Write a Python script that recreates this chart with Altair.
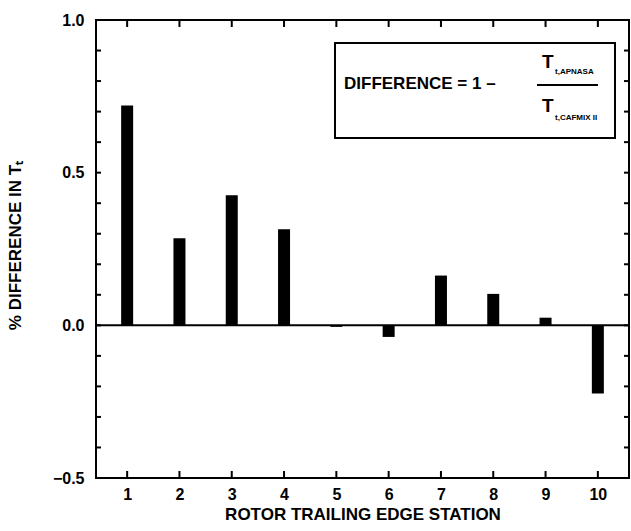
import altair as alt
import pandas as pd

# ---- data ----
stations = [1, 2, 3, 4, 5, 6, 7, 8, 9, 10]
differences = [0.72, 0.285, 0.426, 0.315, -0.005, -0.038, 0.163, 0.103, 0.025, -0.223]
x_tick_values = [1, 2, 3, 4, 5, 6, 7, 8, 9, 10]
y_tick_labels = [-0.5, 0.0, 0.5, 1.0]
y_minor_ticks = [-0.4, -0.3, -0.2, -0.1, 0.0, 0.1, 0.2, 0.3, 0.4, 0.5, 0.6, 0.7, 0.8, 0.9]

FONT = "Liberation Sans"
W, H = 533, 458

df = pd.DataFrame({"station": stations, "diff": differences})
xt = pd.DataFrame({"tx": x_tick_values})
yt = pd.DataFrame({"ty": y_minor_ticks})
one = pd.DataFrame({"a": [0]})

xscale = alt.Scale(domain=[0.5, 10.5], nice=False, zero=False)
yscale = alt.Scale(domain=[-0.5, 1.0], nice=False, zero=False)

bars = alt.Chart(df).mark_bar(color="black", size=12).encode(
    x=alt.X("station:Q", scale=xscale,
            axis=alt.Axis(values=x_tick_values, ticks=False, domain=False, grid=False,
                          title="ROTOR TRAILING EDGE STATION", labelPadding=8,
                          titleX=W / 2, titleY=36, titleBaseline="middle")),
    y=alt.Y("diff:Q", scale=yscale,
            axis=alt.Axis(values=y_tick_labels, format=".1f", ticks=False, domain=False,
                          grid=False, title="% DIFFERENCE IN Tₜ", labelPadding=12,
                          titleX=-81, titleY=H / 2 - 4, titleAngle=-90,
                          titleAlign="center", titleBaseline="middle")),
    y2=alt.datum(0),
)

zero = alt.Chart(one).transform_calculate(z="0").mark_rule(color="black", strokeWidth=2).encode(
    y=alt.Y("z:Q", scale=yscale),
    x=alt.value(0), x2=alt.value(W),
)

TK = 7
xt_bottom = alt.Chart(xt).mark_rule(color="black", strokeWidth=2).encode(
    x=alt.X("tx:Q", scale=xscale), y=alt.value(H - TK), y2=alt.value(H))
xt_top = alt.Chart(xt).mark_rule(color="black", strokeWidth=2).encode(
    x=alt.X("tx:Q", scale=xscale), y=alt.value(0), y2=alt.value(TK))
yt_left = alt.Chart(yt).mark_rule(color="black", strokeWidth=2).encode(
    y=alt.Y("ty:Q", scale=yscale), x=alt.value(0), x2=alt.value(5))
yt_right = alt.Chart(yt).mark_rule(color="black", strokeWidth=2).encode(
    y=alt.Y("ty:Q", scale=yscale), x=alt.value(W - 5), x2=alt.value(W))

box = alt.Chart(one).mark_rect(fill="white", stroke="black", strokeWidth=2).encode(
    x=alt.value(239), x2=alt.value(519), y=alt.value(23), y2=alt.value(118))

def txt(s, x, y, size, align="left"):
    return alt.Chart(one).mark_text(text=s, font=FONT, fontWeight="bold", fontSize=size,
                                    align=align, baseline="middle", color="black").encode(
        x=alt.value(x), y=alt.value(y))

eq = txt("DIFFERENCE = 1 –", 248, 64, 17)
frac = alt.Chart(one).mark_rule(color="black", strokeWidth=2).encode(
    x=alt.value(441), x2=alt.value(502), y=alt.value(65))
t_top = txt("T", 446, 42, 19)
sub_top = txt("t,APNASA", 459, 52, 8)
t_bot = txt("T", 446, 86, 19)
sub_bot = txt("t,CAFMIX II", 459, 98, 8)

chart = alt.layer(
    bars, zero, xt_bottom, xt_top, yt_left, yt_right,
    box, eq, frac, t_top, sub_top, t_bot, sub_bot,
).properties(
    width=W, height=H,
    padding={"left": 96, "top": 20, "right": 2, "bottom": 53},
    autosize=alt.AutoSizeParams(type="none"),
    background="white",
).configure_view(
    stroke="black", strokeWidth=2
).configure_axis(
    labelFont=FONT, labelFontWeight="bold", labelFontSize=16, labelColor="black",
    titleFont=FONT, titleFontWeight="bold", titleFontSize=17, titleColor="black",
)

chart.save("out.html", embed_options={"renderer": "svg", "actions": False})
